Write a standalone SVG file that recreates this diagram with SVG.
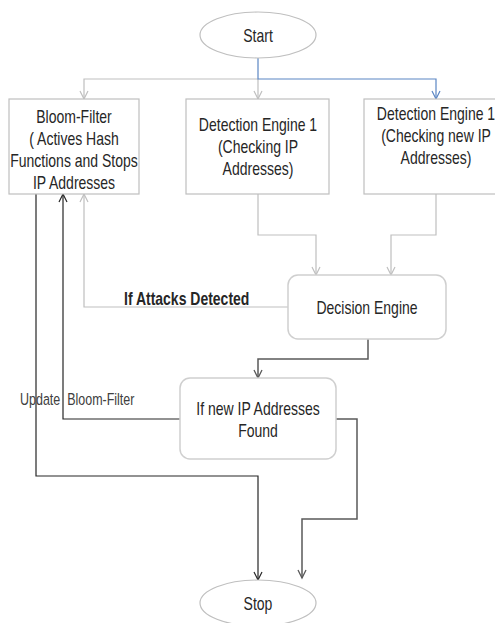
<svg xmlns="http://www.w3.org/2000/svg" width="495" height="623" viewBox="0 0 495 623">
<style>
.box{fill:#fff;stroke:#bfbfbf;stroke-width:1.2}
.rbox{fill:#fff;stroke:#cfcfcf;stroke-width:1.5}
.t{font-family:"Liberation Sans",Arial,sans-serif;font-size:14px;fill:#262626;text-anchor:middle}
.lbl{font-family:"Liberation Sans",Arial,sans-serif;font-size:14px;font-weight:bold;fill:#262626}
.sm{font-family:"Liberation Sans",Arial,sans-serif;font-size:12.5px;fill:#404040}
.c{fill:none;stroke-width:1.2}
.g{stroke:#bfbfbf}
.b{stroke:#5b86c4}
.d{stroke:#595959;stroke-width:1.5}
.k{stroke:#262626}
</style>
<defs>
<marker id="ag" viewBox="-10 -6 12 12" refX="0" refY="0" markerWidth="12" markerHeight="12" markerUnits="userSpaceOnUse" orient="auto"><path d="M-8,-4 L0,0 L-8,4" fill="none" stroke="#bfbfbf" stroke-width="1.2"/></marker>
<marker id="ab" viewBox="-10 -6 12 12" refX="0" refY="0" markerWidth="12" markerHeight="12" markerUnits="userSpaceOnUse" orient="auto"><path d="M-8,-4 L0,0 L-8,4" fill="none" stroke="#5b86c4" stroke-width="1.2"/></marker>
<marker id="ad" viewBox="-10 -6 12 12" refX="0" refY="0" markerWidth="12" markerHeight="12" markerUnits="userSpaceOnUse" orient="auto"><path d="M-8,-4 L0,0 L-8,4" fill="none" stroke="#595959" stroke-width="1.3"/></marker>
<marker id="ak" viewBox="-10 -6 12 12" refX="0" refY="0" markerWidth="12" markerHeight="12" markerUnits="userSpaceOnUse" orient="auto"><path d="M-8,-4 L0,0 L-8,4" fill="none" stroke="#262626" stroke-width="1.2"/></marker>
</defs>
<rect width="495" height="623" fill="#fff"/>
<g id="connectors">
<path class="c g" d="M258,79 H84 V99" marker-end="url(#ag)"/>
<path class="c g" d="M258,79 V99" marker-end="url(#ag)"/>
<path class="c b" d="M258,57 V79 H436 V99" marker-end="url(#ab)"/>
<path class="c g" d="M258,194 V235 H316 V275" marker-end="url(#ag)"/>
<path class="c g" d="M436,194 V235 H391 V275" marker-end="url(#ag)"/>
<path class="c g" d="M288,307 H84 V194" marker-end="url(#ag)"/>
<path class="c d" d="M368,339 V359 H258 V378" marker-end="url(#ad)"/>
<path class="c k" d="M180,419 H63 V194" marker-end="url(#ak)"/>
<path class="c k" d="M36,194 V476 H258 V580" marker-end="url(#ak)"/>
<path class="c d" d="M336,419 H357 V519 H302 V578" marker-end="url(#ad)"/>
<text class="lbl" transform="translate(124,305) scale(1,1.25)">If Attacks Detected</text>
<text class="sm" transform="translate(20,405) scale(1,1.25)" xml:space="preserve">Update  Bloom-Filter</text>
</g>
<g id="start">
<ellipse cx="258" cy="35" rx="58" ry="23" class="box"/>
<text class="t" transform="translate(258,42) scale(1,1.27)">Start</text>
</g>
<g id="bloom">
<rect x="9" y="99" width="130" height="95" class="box"/>
<text class="t" transform="translate(74,123) scale(1,1.27)">Bloom-Filter</text>
<text class="t" transform="translate(74,145) scale(1,1.27)">( Actives Hash</text>
<text class="t" transform="translate(74,167) scale(1,1.27)">Functions and Stops</text>
<text class="t" transform="translate(74,189) scale(1,1.27)">IP Addresses</text>
</g>
<g id="engine1">
<rect x="186" y="99" width="143" height="95" class="box"/>
<text class="t" transform="translate(258,131) scale(1,1.27)">Detection Engine 1</text>
<text class="t" transform="translate(258,153) scale(1,1.27)">(Checking IP</text>
<text class="t" transform="translate(258,175) scale(1,1.27)">Addresses)</text>
</g>
<g id="engine2">
<rect x="364" y="99" width="144" height="95" class="box"/>
<text class="t" transform="translate(436,120) scale(1,1.27)">Detection Engine 1</text>
<text class="t" transform="translate(436,142) scale(1,1.27)">(Checking new IP</text>
<text class="t" transform="translate(436,164) scale(1,1.27)">Addresses)</text>
</g>
<g id="decision">
<rect x="288" y="275" width="158" height="64" rx="10" class="rbox"/>
<text class="t" transform="translate(367,314) scale(1,1.27)">Decision Engine</text>
</g>
<g id="newip">
<rect x="180" y="378" width="156" height="81" rx="10" class="rbox"/>
<text class="t" transform="translate(258,415) scale(1,1.27)">If new IP Addresses</text>
<text class="t" transform="translate(258,437) scale(1,1.27)">Found</text>
</g>
<g id="stop">
<ellipse cx="258" cy="603" rx="58" ry="23" class="box"/>
<text class="t" transform="translate(258,610) scale(1,1.27)">Stop</text>
</g>
</svg>
